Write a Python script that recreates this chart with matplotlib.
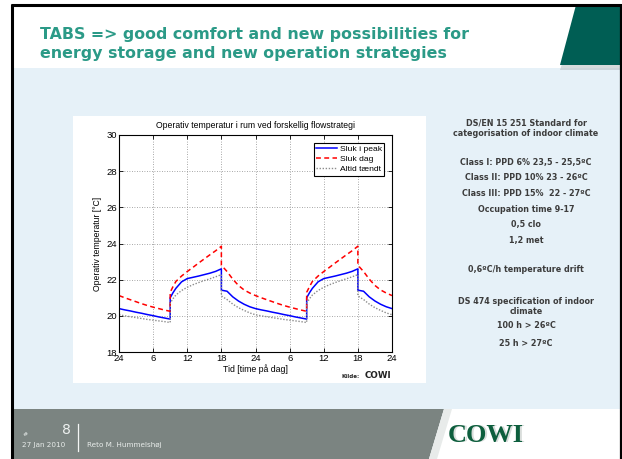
import matplotlib
matplotlib.use('Agg')
import matplotlib.pyplot as plt
from matplotlib.patches import Rectangle, Polygon

# ---------------- data ----------------
hours = [0, 1, 2, 3, 4, 5, 6, 7, 8, 9, 9, 9.5, 10, 11, 12, 13, 14, 15, 16, 17, 18, 18, 19, 20, 21, 22, 23,
         24, 25, 26, 27, 28, 29, 30, 31, 32, 33, 33, 33.5, 34, 35, 36, 37, 38, 39, 40, 41, 42, 42, 43, 44, 45, 46, 47,
         48]
sluk_i_peak = [20.40, 20.33, 20.27, 20.20, 20.14, 20.07, 20.01, 19.94, 19.88, 19.82, 21.00, 21.28, 21.52, 21.88,
               22.06, 22.13, 22.20, 22.28, 22.36, 22.46, 22.60, 21.42, 21.36, 21.05, 20.82, 20.64, 20.50,
               20.40, 20.33, 20.27, 20.20, 20.14, 20.07, 20.01, 19.94, 19.88, 19.82, 21.00, 21.28, 21.52, 21.88,
               22.06, 22.13, 22.20, 22.28, 22.36, 22.46, 22.60, 21.42, 21.36, 21.05, 20.82, 20.64, 20.50,
               20.40]
sluk_dag = [21.12, 21.00, 20.89, 20.78, 20.67, 20.57, 20.48, 20.40, 20.32, 20.25, 21.30, 21.62, 21.90, 22.20,
            22.45, 22.68, 22.92, 23.15, 23.38, 23.60, 23.85, 22.80, 22.45, 22.03, 21.68, 21.43, 21.26,
            21.12, 21.00, 20.89, 20.78, 20.67, 20.57, 20.48, 20.40, 20.32, 20.25, 21.30, 21.62, 21.90, 22.20,
            22.45, 22.68, 22.92, 23.15, 23.38, 23.60, 23.85, 22.80, 22.45, 22.03, 21.68, 21.43, 21.26,
            21.12]
altid_taendt = [20.06, 20.00, 19.95, 19.90, 19.85, 19.80, 19.76, 19.72, 19.68, 19.63, 20.70, 20.95, 21.15, 21.40,
                21.58, 21.72, 21.84, 21.95, 22.05, 22.16, 22.28, 21.10, 20.90, 20.65, 20.45, 20.30, 20.16,
                20.06, 20.00, 19.95, 19.90, 19.85, 19.80, 19.76, 19.72, 19.68, 19.63, 20.70, 20.95, 21.15, 21.40,
                21.58, 21.72, 21.84, 21.95, 22.05, 22.16, 22.28, 21.10, 20.90, 20.65, 20.45, 20.30, 20.16,
                20.06]
series_names = ['Sluk i peak', 'Sluk dag', 'Altid tændt']
xtick_hours = [0, 6, 12, 18, 24, 30, 36, 42, 48]
xtick_labels = ['24', '6', '12', '18', '24', '6', '12', '18', '24']
ytick_values = [18, 20, 22, 24, 26, 28, 30]

slide_title = ['TABS => good comfort and new possibilities for',
               'energy storage and new operation strategies']
side_lines = ['DS/EN 15 251 Standard for', 'categorisation of indoor climate',
              'Class I: PPD 6% 23,5 - 25,5ºC', 'Class II: PPD 10% 23 - 26ºC',
              'Class III: PPD 15%  22 - 27ºC', 'Occupation time 9-17', '0,5 clo', '1,2 met',
              '0,6ºC/h temperature drift', 'DS 474 specification of indoor', 'climate',
              '100 h > 26ºC', '25 h > 27ºC']

# ---------------- slide background ----------------
W, H = 622, 459
fig = plt.figure(figsize=(W / 100, H / 100), dpi=100, facecolor='white')
bg = fig.add_axes([0, 0, 1, 1])
bg.set_xlim(0, W)
bg.set_ylim(H, 0)
bg.axis('off')

bg.add_patch(Rectangle((13, 5), 607, 454, facecolor='#e6f1f8', edgecolor='none'))
bg.add_patch(Rectangle((13, 5), 607, 63, facecolor='white', edgecolor='none'))
# shadow + green corner shape
bg.add_patch(Polygon([(562, 64), (621, 64), (621, 70), (560, 70)], closed=True,
                     facecolor='#b9c3c6', edgecolor='none', alpha=0.6))
bg.add_patch(Polygon([(576, 5), (621, 5), (621, 65), (560, 65)], closed=True,
                     facecolor='#005e54', edgecolor='none'))
# footer
bg.add_patch(Polygon([(13, 409), (444, 409), (429, 459), (13, 459)], closed=True,
                     facecolor='#7b8481', edgecolor='none'))
bg.add_patch(Polygon([(444, 409), (621, 409), (621, 459), (429, 459)], closed=True,
                     facecolor='white', edgecolor='none'))
bg.add_patch(Polygon([(444, 409), (452, 409), (437, 459), (429, 459)], closed=True,
                     facecolor='#d9dedc', edgecolor='none', alpha=0.6))
# frame
bg.plot([12, 12], [4, 459], color='black', lw=2.2, solid_capstyle='butt')
bg.plot([11, 621], [5, 5], color='black', lw=2.2, solid_capstyle='butt')
bg.plot([620.5, 620.5], [4, 459], color='black', lw=1.6, solid_capstyle='butt')

for i, line in enumerate(slide_title):
    bg.text(40, 39 + i * 19, line, fontsize=11.4, fontweight='bold', color='#2b9a87',
            family='DejaVu Sans', va='baseline', ha='left')

# footer texts
bg.text(23, 434, '#', fontsize=4.5, color='#e8ecea', va='center', ha='left')
bg.text(71, 430, '8', fontsize=10, color='#eef1f0', va='center', ha='right', family='DejaVu Sans')
bg.text(22, 445, '27 Jan 2010', fontsize=5.2, color='#e8ecea', va='center', ha='left')
bg.plot([78, 78], [424, 451], color='#f4f6f5', lw=0.9)
bg.text(87, 445, 'Reto M. Hummelshøj', fontsize=5.2, color='#e8ecea', va='center', ha='left')
bg.text(488, 436, 'COWI', fontsize=19, fontweight='bold', family='Liberation Serif',
        color='#c9cfcc', va='center', ha='center', alpha=0.7)
bg.text(486, 435, 'COWI', fontsize=19, fontweight='bold', family='Liberation Serif',
        color='#0d5e3d', va='center', ha='center')

# side text
side_y = [123, 134, 163, 178, 193, 209, 224, 240, 270, 302, 311, 326, 343]
for txt, yy in zip(side_lines, side_y):
    bg.text(526, yy, txt, fontsize=5.8, fontweight='bold', color='#3c3c3c',
            ha='center', va='center', family='DejaVu Sans')

# chart white box
bg.add_patch(Rectangle((73, 116), 353, 267, facecolor='white', edgecolor='none'))

# ---------------- chart ----------------
ax = fig.add_axes([119 / W, 1 - 352 / H, (392 - 119) / W, (352 - 135) / H])
ax.set_facecolor('white')
ax.plot(hours, sluk_i_peak, color='#0000ff', lw=1.1, label=series_names[0])
ax.plot(hours, sluk_dag, color='#ff0000', lw=1.1, ls=(0, (3.2, 2.2)), label=series_names[1])
ax.plot(hours, altid_taendt, color='#8c8c8c', lw=1.0, ls=(0, (1, 1.2)), label=series_names[2])

ax.set_xlim(0, 48)
ax.set_ylim(18, 30)
ax.set_xticks(xtick_hours)
ax.set_xticklabels(xtick_labels)
ax.set_yticks(ytick_values)
ax.tick_params(direction='in', top=True, right=True, length=3, width=0.6,
               labelsize=6.8, pad=1.5)
for lab in ax.get_xticklabels() + ax.get_yticklabels():
    lab.set_family('Liberation Sans')
for sp in ax.spines.values():
    sp.set_linewidth(0.8)
ax.grid(True, linestyle=(0, (1, 2)), color='#8a8a8a', linewidth=0.6)

ax.set_title('Operativ temperatur i rum ved forskellig flowstrategi', fontsize=6.2,
             family='Liberation Sans', pad=5)
ax.set_xlabel('Tid [time på dag]', fontsize=6.3, family='Liberation Sans', labelpad=1)
ax.set_ylabel('Operativ temperatur [°C]', fontsize=6.2, family='Liberation Sans', labelpad=3)

leg = ax.legend(loc='upper right', prop={'family': 'Liberation Sans', 'size': 6.1},
                fancybox=False, edgecolor='black', framealpha=1, borderpad=0.3,
                labelspacing=0.25, handlelength=2.4, handletextpad=0.35, borderaxespad=0.9)
leg.get_frame().set_linewidth(0.8)

bg.text(342, 377, 'Kilde:', fontsize=4, fontweight='bold', family='DejaVu Sans',
        ha='left', va='center', color='#222222')
bg.text(365, 376, 'COWI', fontsize=6.3, fontweight='bold', family='DejaVu Sans',
        ha='left', va='center', color='#222222')

fig.savefig('out.png', dpi=100, facecolor='white')
